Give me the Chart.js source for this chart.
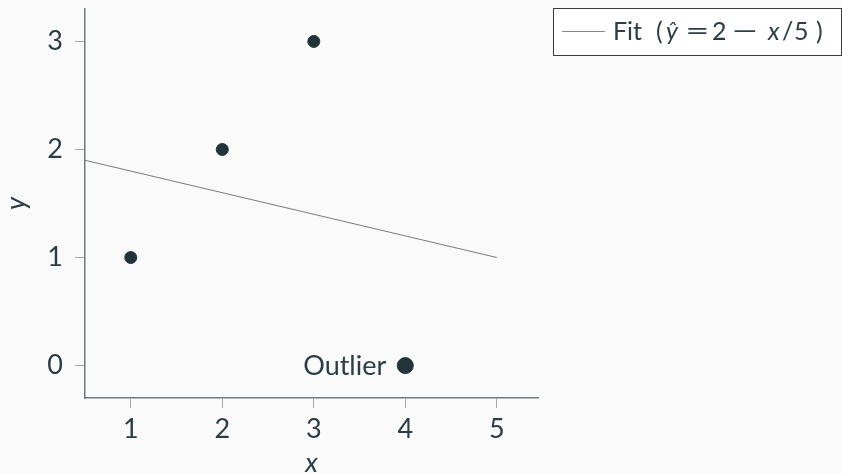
<!DOCTYPE html>
<html>
<head>
<meta charset="utf-8">
<script src="https://cdn.jsdelivr.net/npm/chart.js@4/dist/chart.umd.min.js"></script>
<style>
  html, body { margin: 0; padding: 0; background: #fafafa; }
  #wrap { width: 842px; height: 474px; position: relative; }
  canvas { display: block; }
</style>
</head>
<body>
<div id="wrap"><canvas id="c" width="842" height="474"></canvas></div>
<script>
// Observations
const obsX = [1, 2, 3];
const obsY = [1, 2, 3];
// The outlying observation
const outlierX = [4];
const outlierY = [0];
const outlierLabel = 'Outlier';
// Fitted line endpoints
const fitX = [0.5, 5];
const fitY = [1.9, 1.0];
// Tick values
const xTicks = [1, 2, 3, 4, 5];
const yTicks = [0, 1, 2, 3];

const FONT = 'Lato, "Open Sans", sans-serif';
const INK = '#22343a';
const TEXT = '#2b3d45';

const toPts = (xs, ys) => xs.map((x, i) => ({ x, y: ys[i] }));

// Boxed legend; the label is set glyph group by glyph group with math-style spacing
const boxedLegend = {
  id: 'boxedLegend',
  afterDraw(chart) {
    const ctx = chart.ctx;
    const x0 = 553, y0 = 8, x1 = 841, y1 = 55;
    const base = 40;
    ctx.save();
    ctx.fillStyle = '#ffffff';
    ctx.fillRect(x0, y0, x1 - x0, y1 - y0);
    ctx.strokeStyle = '#3a3a3a';
    ctx.lineWidth = 1;
    ctx.strokeRect(x0 + 0.5, y0 + 0.5, x1 - x0, y1 - y0);
    ctx.strokeStyle = '#888888';
    ctx.beginPath();
    ctx.moveTo(562, 31.5);
    ctx.lineTo(605, 31.5);
    ctx.stroke();
    // [text, italic, ink left edge]
    const parts = [
      ['Fit', false, 615], ['(', false, 657], ['ŷ', true, 666],
      ['2', false, 713], ['x', true, 767], ['/', false, 782], ['5', false, 795], [')', false, 816]
    ];
    ctx.fillStyle = TEXT;
    ctx.textBaseline = 'alphabetic';
    ctx.textAlign = 'left';
    for (const [s, it, x] of parts) {
      ctx.font = (it ? 'italic ' : '') + '25px ' + FONT;
      const m = ctx.measureText(s);
      ctx.fillText(s, x + m.actualBoundingBoxLeft, base);
    }
    // wide relation / operator glyphs: [text, ink left, ink width]
    const ops = [['=', 687, 20], ['−', 733, 23]];
    ctx.font = '25px ' + FONT;
    for (const [s, x, w] of ops) {
      const m = ctx.measureText(s);
      const inkW = m.actualBoundingBoxLeft + m.actualBoundingBoxRight;
      const k = w / inkW;
      ctx.save();
      ctx.translate(x, base);
      ctx.scale(k, 1);
      ctx.fillText(s, m.actualBoundingBoxLeft, 0);
      ctx.restore();
    }
    ctx.restore();
  }
};

// Text label beside the outlying point
const outlierNote = {
  id: 'outlierNote',
  afterDatasetsDraw(chart) {
    const ctx = chart.ctx;
    const px = chart.scales.x.getPixelForValue(outlierX[0]);
    const py = chart.scales.y.getPixelForValue(outlierY[0]);
    ctx.save();
    ctx.font = '27px ' + FONT;
    ctx.fillStyle = TEXT;
    ctx.textAlign = 'right';
    ctx.textBaseline = 'middle';
    ctx.fillText(outlierLabel, px - 19, py + 1);
    ctx.restore();
  }
};

new Chart(document.getElementById('c'), {
  type: 'scatter',
  data: {
    datasets: [
      {
        label: 'Fit (ŷ = 2 − x/5)',
        type: 'line',
        data: toPts(fitX, fitY),
        borderColor: '#7a7a7a',
        borderWidth: 1,
        pointRadius: 0,
        fill: false
      },
      {
        label: 'Data',
        data: toPts(obsX, obsY),
        backgroundColor: INK,
        borderColor: INK,
        pointRadius: 6,
        pointHoverRadius: 6
      },
      {
        label: outlierLabel,
        data: toPts(outlierX, outlierY),
        backgroundColor: INK,
        borderColor: INK,
        pointRadius: 8,
        pointHoverRadius: 8
      }
    ]
  },
  options: {
    responsive: false,
    animation: false,
    devicePixelRatio: 1,
    layout: { padding: { top: 7, right: 304, left: 0, bottom: 0 } },
    plugins: { legend: { display: false }, tooltip: { enabled: false } },
    scales: {
      x: {
        type: 'linear',
        min: 0.5,
        max: 5.45,
        afterBuildTicks: s => { s.ticks = xTicks.map(v => ({ value: v })); },
        afterFit: s => { s.height = 76; s.paddingLeft = 0; s.paddingRight = 0; },
        grid: { drawOnChartArea: false, drawTicks: true, tickLength: 10, color: '#a8a8a8' },
        border: { color: '#6f7b7d', width: 1.5 },
        ticks: { color: TEXT, font: { family: FONT, size: 27 }, padding: 5 },
        title: { display: true, text: 'x', color: TEXT, font: { family: FONT, size: 27, style: 'italic' }, padding: { top: 4, bottom: -5 } }
      },
      y: {
        type: 'linear',
        min: -0.3,
        max: 3.3,
        afterBuildTicks: s => { s.ticks = yTicks.map(v => ({ value: v })); },
        afterFit: s => { s.width = 85; s.paddingTop = 0; s.paddingBottom = 0; },
        grid: { drawOnChartArea: false, drawTicks: true, tickLength: 10, color: '#a8a8a8' },
        border: { color: '#6f7b7d', width: 1.5 },
        ticks: { color: TEXT, font: { family: FONT, size: 27 }, padding: 12 },
        title: { display: true, text: 'y', color: TEXT, font: { family: FONT, size: 27, style: 'italic' }, padding: { top: 0, bottom: 0 } }
      }
    }
  },
  plugins: [outlierNote, boxedLegend]
});
</script>
</body>
</html>
